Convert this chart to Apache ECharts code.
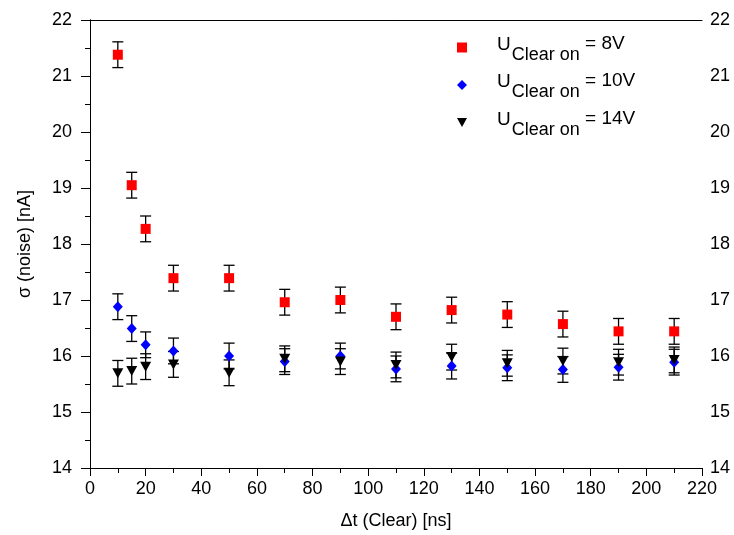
<!DOCTYPE html>
<html>
<head>
<meta charset="utf-8">
<script src="https://cdn.jsdelivr.net/npm/echarts@6/dist/echarts.min.js"></script>
<style>
  html, body { margin: 0; padding: 0; background: #fff; }
  #chart { width: 734px; height: 535px; }
</style>
</head>
<body>
<div id="chart"></div>
<script>
// Clear pulse delay (ns)
const dt = [10, 15, 20, 30, 50, 70, 90, 110, 130, 150, 170, 190, 210];

// Noise sigma (nA) for three Clear-on voltages
const sigma8V  = [21.38, 19.05, 18.27, 17.39, 17.39, 16.96, 17.00, 16.70, 16.82, 16.74, 16.57, 16.44, 16.44];
const sigma10V = [16.88, 16.49, 16.20, 16.09, 16.00, 15.90, 16.00, 15.77, 15.82, 15.79, 15.76, 15.80, 15.89];
const sigma14V = [15.69, 15.73, 15.81, 15.85, 15.70, 15.95, 15.90, 15.84, 15.98, 15.87, 15.91, 15.89, 15.93];

// Uncertainties (nA)
const err8V  = [0.23, 0.23, 0.23, 0.23, 0.23, 0.23, 0.23, 0.23, 0.23, 0.23, 0.23, 0.23, 0.23];
const err10V = [0.23, 0.23, 0.23, 0.23, 0.23, 0.23, 0.23, 0.23, 0.23, 0.23, 0.23, 0.23, 0.23];
const err14V = [0.23, 0.23, 0.23, 0.23, 0.23, 0.23, 0.23, 0.23, 0.23, 0.23, 0.23, 0.23, 0.23];

const legendLabels = { 'U8': ' = 8V', 'U10': ' = 10V', 'U14': ' = 14V' };

const FONT = 'Liberation Sans, Arial, sans-serif';
const TRI_DOWN = 'path://M0,0 L10,0 L5,9 Z';

function points(vals) { return dt.map((x, i) => [x, vals[i]]); }
function bars(vals, errs) { return dt.map((x, i) => [x, vals[i] - errs[i], vals[i] + errs[i]]); }

function renderErrorBar(params, api) {
  const x = api.value(0);
  const lo = api.coord([x, api.value(1)]);
  const hi = api.coord([x, api.value(2)]);
  const w = 5.5;
  const st = { stroke: '#000', lineWidth: 1.3 };
  return {
    type: 'group',
    children: [
      { type: 'line', shape: { x1: lo[0], y1: lo[1], x2: hi[0], y2: hi[1] }, style: st },
      { type: 'line', shape: { x1: lo[0] - w, y1: lo[1], x2: lo[0] + w, y2: lo[1] }, style: st },
      { type: 'line', shape: { x1: hi[0] - w, y1: hi[1], x2: hi[0] + w, y2: hi[1] }, style: st }
    ]
  };
}

function errorSeries(vals, errs) {
  return {
    type: 'custom',
    renderItem: renderErrorBar,
    data: bars(vals, errs),
    z: 1,
    silent: true,
    encode: { x: 0, y: [1, 2] }
  };
}

const axisLineStyle = { color: '#000', width: 1 };
const labelStyle = { color: '#000', fontSize: 18, fontFamily: FONT };

const chart = echarts.init(document.getElementById('chart'));
chart.setOption({
  animation: false,
  backgroundColor: '#fff',
  grid: { left: 90, right: 32, top: 20, bottom: 66 },
  legend: {
    orient: 'vertical',
    left: 452,
    top: 29,
    itemWidth: 10,
    itemHeight: 10,
    itemGap: 7.5,
    data: [
      { name: 'U8', icon: 'rect' },
      { name: 'U10', icon: 'diamond' },
      { name: 'U14', icon: TRI_DOWN }
    ],
    formatter: name => '{u|U}{s|Clear on}{e|' + legendLabels[name] + '}',
    textStyle: {
      color: '#000',
      fontFamily: FONT,
      rich: {
        u: { fontSize: 19, fontFamily: FONT, color: '#000', padding: [0, 0, 6, 25] },
        s: { fontSize: 18, fontFamily: FONT, color: '#000', padding: [15, 0, 0, 1] },
        e: { fontSize: 19, fontFamily: FONT, color: '#000', padding: [0, 0, 8, 0] }
      }
    }
  },
  xAxis: [
    {
      type: 'value',
      min: 0, max: 220, interval: 20,
      name: 'Δt (Clear) [ns]',
      nameLocation: 'middle',
      nameGap: 44,
      nameTextStyle: { color: '#000', fontSize: 18, fontFamily: FONT },
      axisLine: { lineStyle: axisLineStyle },
      axisTick: { length: 8, lineStyle: axisLineStyle },
      minorTick: { show: true, splitNumber: 2, length: 5, lineStyle: axisLineStyle },
      axisLabel: Object.assign({ margin: 12 }, labelStyle),
      splitLine: { show: false }
    },
    {
      type: 'value',
      position: 'top',
      min: 0, max: 220, interval: 20,
      axisLine: { lineStyle: axisLineStyle },
      axisTick: { show: false },
      axisLabel: { show: false },
      splitLine: { show: false }
    }
  ],
  yAxis: [
    {
      type: 'value',
      min: 14, max: 22, interval: 1,
      name: 'σ (noise) [nA]',
      nameLocation: 'middle',
      nameGap: 56,
      nameTextStyle: { color: '#000', fontSize: 18, fontFamily: FONT },
      axisLine: { show: true, lineStyle: axisLineStyle },
      axisTick: { length: 9, lineStyle: axisLineStyle },
      minorTick: { show: true, splitNumber: 2, length: 5, lineStyle: axisLineStyle },
      axisLabel: Object.assign({ margin: 18 }, labelStyle),
      splitLine: { show: false }
    },
    {
      type: 'value',
      position: 'right',
      min: 14, max: 22, interval: 1,
      axisLine: { show: true, lineStyle: axisLineStyle },
      axisTick: { inside: true, length: 9, lineStyle: axisLineStyle },
      minorTick: { show: true, splitNumber: 2, length: 5, lineStyle: axisLineStyle },
      axisLabel: Object.assign({ margin: 8 }, labelStyle),
      splitLine: { show: false }
    }
  ],
  series: [
    errorSeries(sigma8V, err8V),
    errorSeries(sigma10V, err10V),
    errorSeries(sigma14V, err14V),
    {
      name: 'U8', type: 'scatter', symbol: 'rect', symbolSize: 10,
      itemStyle: { color: '#ff0000', opacity: 1 }, z: 5, data: points(sigma8V)
    },
    {
      name: 'U10', type: 'scatter', symbol: 'diamond', symbolSize: [10, 11],
      itemStyle: { color: '#0000ff', opacity: 1 }, z: 5, data: points(sigma10V)
    },
    {
      name: 'U14', type: 'scatter', symbol: TRI_DOWN, symbolSize: [11, 10],
      itemStyle: { color: '#000', opacity: 1 }, z: 5, data: points(sigma14V)
    }
  ]
});
</script>
</body>
</html>
